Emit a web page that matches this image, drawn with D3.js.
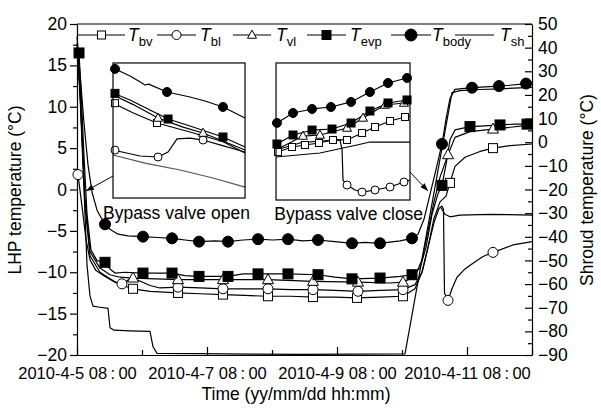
<!DOCTYPE html>
<html lang="en">
<head>
<meta charset="UTF-8">
<title>LHP and shroud temperature</title>
<style>
  body { margin: 0; background: #fff; }
  svg { font-family: "Liberation Sans", Arial, sans-serif; }
  .line { fill: none; stroke: #000; stroke-width: 1.2px; stroke-linejoin: round; }
  .axis path, .axis line { stroke: #000; stroke-width: 1.2px; }
  .axis text { font-size: 17.5px; fill: #000; }
  .xaxis text { font-size: 16.5px; }
  .lbl { font-size: 17.5px; }
</style>
</head>
<body>
<svg width="601" height="410"></svg>
<script src="https://d3js.org/d3.v7.min.js"></script>
<script>
// time in days after 2010-4-5 08:00, temperatures in degC
const bodyT = [0, .046, .108, .169, .231, .308, .4, .431, .508, .631, .785, 1.015, 1.246, 1.462, 1.662, 1.877, 2.123, 2.323, 2.554, 2.785, 3.015, 3.246, 3.477, 3.708, 3.969, 4.231, 4.431, 4.662, 4.969, 5.154, 5.246, 5.338, 5.431, 5.523, 5.615, 5.677, 5.738, 5.815, 5.923, 6.077, 6.277, 6.492, 6.662, 6.908, 7];
const bodyV = [18.5, 14, 8, 3, -0.3, -2.5, -3.8, -4.2, -4.8, -5.4, -5.6, -5.7, -5.8, -5.9, -6.1, -6.3, -6.2, -6.3, -6.1, -6.0, -6.1, -6.0, -6.2, -6.1, -6.3, -6.5, -6.4, -6.5, -6.2, -5.9, -5.4, -3.6, -0.6, 2.4, 5.5, 8.5, 11, 12.1, 12.2, 12.3, 12.4, 12.5, 12.6, 12.8, 12.8];
const bodyMT = [.431, 1.015, 1.462, 1.877, 2.323, 2.785, 3.246, 3.708, 4.231, 4.662, 5.154, 5.615, 6.077, 6.492, 6.908];
const bodyMV = [-4.2, -5.7, -5.9, -6.3, -6.3, -6.0, -6.0, -6.1, -6.5, -6.5, -5.9, 5.5, 12.3, 12.5, 12.8];

const evpT = [0, .031, .062, .108, .154, .215, .308, .431, .508, .585, .738, 1.015, 1.462, 1.662, 1.877, 2.323, 2.554, 2.785, 3.246, 3.708, 3.969, 4.231, 4.662, 4.969, 5.154, 5.277, 5.369, 5.462, 5.554, 5.615, 5.677, 5.738, 5.815, 6.046, 6.277, 6.508, 6.738, 6.923, 7];
const evpV = [17.2, 16.5, 12, 4, -3, -7.3, -8.6, -8.8, -9.6, -10.1, -10.0, -10.1, -10.1, -10.4, -10.5, -10.5, -10.2, -10.2, -10.2, -10.3, -10.6, -10.8, -10.7, -10.5, -10.3, -9.5, -7, -3, -0.5, 0.5, 3, 6, 7.2, 7.6, 7.7, 7.8, 7.9, 7.9, 8.0];
const evpMT = [.031, .431, 1.015, 1.462, 1.877, 2.323, 2.785, 3.246, 3.708, 4.231, 4.662, 5.154, 5.615, 6.046, 6.508, 6.923];
const evpMV = [16.5, -8.8, -10.1, -10.1, -10.5, -10.5, -10.2, -10.2, -10.3, -10.8, -10.7, -10.3, 0.5, 7.6, 7.8, 7.9];

const vlT = [0, .046, .123, .2, .354, .508, .662, .862, 1.554, 2.246, 2.938, 3.631, 4.323, 4.815, 5.015, 5.2, 5.308, 5.4, 5.492, 5.585, 5.708, 5.815, 6.046, 6.4, 7];
const vlV = [17, 12, -1, -7.5, -9.5, -10.3, -10.6, -10.7, -10.9, -10.9, -10.9, -11.1, -11.2, -11.3, -11.2, -10.5, -8.5, -5, -1.5, 1.5, 4.2, 6.3, 7, 7.3, 7.8];
const vlMT = [.862, 1.554, 2.246, 2.938, 3.631, 4.323, 5.015, 5.708, 6.4];
const vlMV = [-10.7, -10.9, -10.9, -10.9, -11.1, -11.2, -11.2, 4.2, 7.3];

const blT = [0, .015, .077, .138, .2, .292, .431, .585, .692, .815, .923, 1.123, 1.277, 1.554, 1.892, 2.246, 2.585, 2.938, 3.292, 3.631, 3.969, 4.323, 4.662, 5.015, 5.2, 5.308, 5.4, 5.492, 5.569, 5.615, 5.638, 5.654, 5.708, 5.769, 5.846, 5.969, 6.092, 6.246, 6.4, 6.708, 7];
const blV = [2.5, 1.8, -2, -6, -8.5, -9.8, -10.5, -11.2, -11.4, -10.8, -10.9, -11.6, -11.9, -11.8, -11.9, -12.0, -12.0, -12.0, -12.1, -12.1, -12.2, -12.3, -12.2, -12.1, -11.5, -10, -7, -4, -2.3, -2.0, -2.4, -12.5, -13.4, -12, -10.6, -9.6, -8.9, -8.1, -7.6, -6.7, -6.3];
const blMT = [.015, .692, 1.554, 2.246, 2.938, 3.631, 4.323, 5.015, 5.708, 6.4];
const blMV = [1.8, -11.4, -11.8, -12.0, -12.0, -12.1, -12.3, -12.1, -13.4, -7.6];

const bvT = [0, .046, .123, .2, .354, .508, .662, .862, 1.123, 1.554, 1.892, 2.246, 2.585, 2.938, 3.292, 3.631, 3.969, 4.308, 4.662, 5.015, 5.2, 5.308, 5.4, 5.492, 5.585, 5.677, 5.738, 5.815, 5.969, 6.2, 6.4, 6.662, 7];
const bvV = [17, 12, -2, -8, -10, -10.8, -11.5, -12, -12.3, -12.5, -12.6, -12.7, -12.8, -12.9, -12.9, -13.0, -13.0, -13.1, -13.0, -12.9, -12, -10, -7, -3.5, -1.5, -0.8, 0.8, 2.8, 3.9, 4.6, 5.0, 5.3, 5.5];
const bvMT = [.862, 1.554, 2.246, 2.938, 3.631, 4.308, 5.015, 5.738, 6.4];
const bvMV = [-12, -12.5, -12.7, -12.9, -13.0, -13.1, -12.9, 0.8, 5.0];

// extra unmarked trace after the valve closes (left axis)
const auxT = [5.6, 5.662, 5.738, 5.892, 6.354, 7];
const auxV = [-2.2, -3.0, -3.3, -3.1, -3.0, -3.1];

// shroud, right axis
const shT = [0, .046, .108, .154, .2, .246, .354, .477, .508, .569, .815, 1.123, 1.169, 1.231, 1.892, 2.662, 3.431, 4.2, 5.046, 5.769, 5.892, 6.2, 6.508, 7];
const shV = [42, 20, -20, -52, -65, -69.3, -69.8, -70.3, -78.5, -79.5, -79.8, -80, -86.5, -89.3, -89.4, -89.6, -89.7, -89.6, -89.5, 21, 21.8, 22.3, 22.6, 23.2];

// inset "bypass valve open" (relative units)
const inAT = {
  body: [[0, 3.41], [1.29, 2.46], [2.0, 1.8], [2.42, 1.39], [2.7, 1.5], [4.09, 0.56], [5.83, -0.03], [6.97, -0.5], [8.33, -1.21], [10, -2.52]],
  evp: [[0, 0.44], [1.29, -0.39], [2.8, -1.57], [4.17, -2.64], [5.83, -3.47], [8.33, -4.77], [10, -5.96]],
  vl: [[0, 0.21], [1.5, -0.9], [3.41, -2.52], [5.3, -3.6], [6.82, -4.3], [10, -6.31]],
  bv: [[0, -0.74], [1.5, -1.9], [3.33, -3.11], [5.83, -4.18], [8.3, -5.3], [10, -6.67]],
  bl: [[0, -6.31], [2.05, -7.02], [3.41, -7.14], [4.17, -6.55], [4.85, -5.0], [5.83, -4.9], [6.82, -5.13], [8.1, -5.7], [10, -6.55]],
  sh: [[0, -6.9], [2.5, -7.9], [5.08, -8.68], [7.5, -9.6], [10, -10.7]]
};
const inAM = {
  body: [[0.15, 3.3], [4.09, 0.56], [8.33, -1.21]],
  evp: [[0.15, 0.4], [4.17, -2.64], [8.33, -4.77]],
  vl: [[3.41, -2.52], [6.82, -4.3]],
  bv: [[0.15, -0.76], [3.33, -3.11]],
  bl: [[0.15, -6.32], [3.41, -7.14], [6.82, -5.13]]
};
// inset "bypass valve close" (relative units)
const inBT = {
  body: [[0, -5.36], [0.07, -5.0], [1.27, -3.84], [2.69, -3.37], [4.10, -3.14], [5.6, -2.55], [7.01, -1.39], [8.36, -0.34], [9.78, 0.25], [10, 0.36]],
  evp: [[0, -7.81], [0.07, -7.46], [1.27, -6.41], [2.69, -5.83], [4.18, -5.71], [5.6, -5.01], [7.01, -3.61], [8.36, -2.67], [9.78, -2.32], [10, -2.2]],
  vl: [[0, -8.16], [2.01, -6.53], [3.28, -6.41], [5.3, -5.59], [6.49, -4.42], [8.13, -2.91], [9.55, -2.67], [10, -2.56]],
  bv: [[0, -8.51], [0.15, -8.4], [1.19, -7.81], [2.16, -7.58], [3.21, -7.34], [4.25, -6.99], [5.3, -6.99], [6.42, -6.18], [7.39, -5.48], [8.51, -4.77], [9.63, -4.31], [10, -4.19]],
  bl: [[0, -8.16], [1.79, -7.34], [3.28, -7.11], [4.78, -6.99], [4.93, -8.16], [5.0, -11.67], [5.3, -12.25], [5.9, -12.83], [6.42, -13.07], [7.39, -12.83], [8.51, -12.48], [9.55, -11.9], [10, -11.67]],
  sh: [[0, -8.98], [3.28, -8.51], [6.04, -7.58], [7.01, -7.23], [10, -7.23]]
};
const inBM = {
  body: [[0.07, -5.0], [1.27, -3.84], [2.69, -3.37], [4.10, -3.14], [5.6, -2.55], [7.01, -1.39], [8.36, -0.34], [9.78, 0.25]],
  evp: [[0.07, -7.46], [1.27, -6.41], [2.69, -5.83], [4.18, -5.71], [5.6, -5.01], [7.01, -3.61], [8.36, -2.67], [9.78, -2.32]],
  vl: [[2.01, -6.53], [3.28, -6.41], [5.3, -5.59], [6.49, -4.42], [8.13, -2.91], [9.55, -2.67]],
  bv: [[0.15, -8.4], [1.19, -7.81], [2.16, -7.58], [3.21, -7.34], [4.25, -6.99], [5.3, -6.99], [6.42, -6.18], [7.39, -5.48], [8.51, -4.77], [9.63, -4.31]],
  bl: [[5.3, -12.25], [6.42, -13.07], [7.39, -12.83], [8.51, -12.48], [9.55, -11.9]]
};

const legendNames = ["bv", "bl", "vl", "evp", "body", "sh"];
const legendSyms = ["osq", "ocirc", "tri", "fsq", "fcirc", null];

const start = new Date(2010, 3, 5, 8, 0);
const day = d => new Date(+start + d * 864e5);

const svg = d3.select("svg");
const x = d3.scaleTime().domain([day(0), day(7)]).range([77, 532]);
const yL = d3.scaleLinear().domain([-20, 20]).range([355, 24]);
const yR = d3.scaleLinear().domain([-90, 50]).range([355, 24]);
const minus = d => d < 0 ? "\u2212" + Math.abs(d) : d;
const zip = (a, b) => a.map((t, i) => [t, b[i]]);

function marker(g, sym, cx, cy, s) {
  if (sym === "fcirc" || sym === "ocirc") {
    g.append("circle").attr("cx", cx).attr("cy", cy).attr("r", s / 2)
      .attr("fill", sym === "fcirc" ? "#000" : "#fff").attr("stroke", "#000").attr("stroke-width", 1);
  } else if (sym === "fsq" || sym === "osq") {
    g.append("rect").attr("x", cx - s / 2).attr("y", cy - s / 2).attr("width", s).attr("height", s)
      .attr("fill", sym === "fsq" ? "#000" : "#fff").attr("stroke", "#000").attr("stroke-width", 1);
  } else if (sym === "tri") {
    const h = s * 0.9;
    g.append("path").attr("d", `M${cx},${cy - h * 0.6}L${cx + s / 2},${cy + h * 0.4}L${cx - s / 2},${cy + h * 0.4}Z`)
      .attr("fill", "#fff").attr("stroke", "#000").attr("stroke-width", 1);
  }
}

// axes
const gL = svg.append("g").attr("class", "axis").attr("transform", "translate(77,0)");
gL.call(d3.axisLeft(yL).tickValues(d3.range(-20, 21, 5)).tickSize(7).tickPadding(3).tickFormat(minus));
gL.append("g").call(d3.axisLeft(yL).tickValues(d3.range(-17.5, 20, 5)).tickSize(4).tickFormat(""))
  .select(".domain").remove();

const gR = svg.append("g").attr("class", "axis").attr("transform", "translate(532,0)");
gR.call(d3.axisRight(yR).tickValues(d3.range(-90, 51, 10)).tickSizeInner(-7).tickSizeOuter(0).tickPadding(6).tickFormat(minus));
gR.append("g").call(d3.axisRight(yR).tickValues(d3.range(-85, 50, 10)).tickSizeInner(-4).tickSizeOuter(0).tickFormat(""))
  .select(".domain").remove();

const fmt = d => d3.timeFormat("%Y-%-m-%-d %H")(d) + "\u2009:\u2009" + d3.timeFormat("%M")(d);
const gB = svg.append("g").attr("class", "axis xaxis").attr("transform", "translate(0,355)");
gB.call(d3.axisBottom(x).tickValues(d3.range(0, 8, 2).map(day)).tickSizeInner(-8).tickSizeOuter(0).tickPadding(12).tickFormat(fmt));
gB.append("g").call(d3.axisBottom(x).tickValues(d3.range(1, 8, 2).map(day)).tickSizeInner(-5).tickSizeOuter(0).tickFormat(""))
  .select(".domain").remove();
svg.append("line").attr("x1", 77).attr("x2", 532).attr("y1", 24).attr("y2", 24)
  .attr("stroke", "#000").attr("stroke-width", 1.2);

svg.append("text").attr("class", "lbl").attr("text-anchor", "middle")
  .attr("transform", "translate(21,190) rotate(-90)").text("LHP temperature (\u00B0C)");
svg.append("text").attr("class", "lbl").attr("text-anchor", "middle")
  .attr("transform", "translate(593,190) rotate(-90)").text("Shroud temperature (\u00B0C)");
svg.append("text").attr("class", "lbl").attr("text-anchor", "middle")
  .attr("x", 296).attr("y", 400).text("Time (yy/mm/dd hh:mm)");

// main series
const lineL = d3.line().x(d => x(day(d[0]))).y(d => yL(d[1]));
const lineR = d3.line().x(d => x(day(d[0]))).y(d => yR(d[1]));
const plot = svg.append("g");
plot.append("path").attr("class", "line").attr("d", lineR(zip(shT, shV)));
plot.append("path").attr("class", "line").attr("d", lineL(zip(auxT, auxV)));
const mainSeries = [
  [bvT, bvV, bvMT, bvMV, "osq", 9],
  [blT, blV, blMT, blMV, "ocirc", 10],
  [vlT, vlV, vlMT, vlMV, "tri", 11],
  [evpT, evpV, evpMT, evpMV, "fsq", 10],
  [bodyT, bodyV, bodyMT, bodyMV, "fcirc", 11]
];
mainSeries.forEach(s => plot.append("path").attr("class", "line").attr("d", lineL(zip(s[0], s[1]))));
mainSeries.forEach(s => s[2].forEach((t, i) => marker(plot, s[4], x(day(t)), yL(s[3][i]), s[5])));

// insets
function inset(t0, t1, vTop, vBot, lo, hi, lines, marks, shColor) {
  const x0 = x(day(t0)), x1 = x(day(t1)), y0 = yL(vTop), y1 = yL(vBot);
  const xi = d3.scaleLinear().domain([0, 10]).range([x0, x1]);
  const yi = d3.scaleLinear().domain([lo, hi]).range([y1, y0]);
  const g = svg.append("g");
  g.append("rect").attr("x", x0).attr("y", y0).attr("width", x1 - x0).attr("height", y1 - y0).attr("fill", "#fff");
  const ln = d3.line().x(d => xi(d[0])).y(d => yi(d[1]));
  g.append("path").attr("class", "line").style("stroke", shColor).attr("d", ln(lines.sh));
  ["bv", "bl", "vl", "evp", "body"].forEach(k => g.append("path").attr("class", "line").attr("d", ln(lines[k])));
  const syms = {bv: "osq", bl: "ocirc", vl: "tri", evp: "fsq", body: "fcirc"};
  const sz = {bv: 7, bl: 8, vl: 9, evp: 8, body: 9};
  ["bv", "bl", "vl", "evp", "body"].forEach(k => marks[k].forEach(p => marker(g, syms[k], xi(p[0]), yi(p[1]), sz[k])));
  g.append("rect").attr("x", x0).attr("y", y0).attr("width", x1 - x0).attr("height", y1 - y0)
    .attr("fill", "none").attr("stroke", "#000").attr("stroke-width", 1.2);
}
inset(.554, 2.585, 15.29, -1.03, -12, 4, inAT, inAM, "#555");
inset(3.062, 5.123, 15.29, -1.27, -14, 2, inBT, inBM, "#000");

// arrows and notes
svg.append("defs").append("marker").attr("id", "ah").attr("viewBox", "0 0 8 6")
  .attr("refX", 8).attr("refY", 3).attr("markerWidth", 8).attr("markerHeight", 6)
  .attr("markerUnits", "userSpaceOnUse").attr("orient", "auto")
  .append("path").attr("d", "M0,0L8,3L0,6Z").attr("fill", "#000");
[[.554, 1.63, .138, -0.18], [5.123, 2.1, 5.4, -0.18]].forEach(a => {
  svg.append("line").attr("x1", x(day(a[0]))).attr("y1", yL(a[1]))
    .attr("x2", x(day(a[2]))).attr("y2", yL(a[3]))
    .attr("stroke", "#000").attr("stroke-width", 1).attr("marker-end", "url(#ah)");
});
svg.append("text").attr("class", "lbl").attr("text-anchor", "middle")
  .attr("x", x(day(1.53))).attr("y", yL(-3.56)).text("Bypass valve open");
svg.append("text").attr("class", "lbl").attr("text-anchor", "middle")
  .attr("x", x(day(4.18))).attr("y", yL(-3.69)).text("Bypass valve close");

// legend
const legLine = [[78, 125], [157, 196], [233, 271], [307, 346], [391, 431], [455, 494]];
const legText = [128, 200, 276, 350, 432, 500];
const leg = svg.append("g");
legendNames.forEach((n, i) => {
  leg.append("line").attr("x1", legLine[i][0]).attr("x2", legLine[i][1]).attr("y1", 35).attr("y2", 35)
    .attr("stroke", "#000").attr("stroke-width", 1.2);
  if (legendSyms[i]) marker(leg, legendSyms[i], (legLine[i][0] + legLine[i][1]) / 2, 35,
    legendSyms[i] === "fcirc" ? 12 : (legendSyms[i] === "osq" ? 8 : 9));
  const t = leg.append("text").attr("x", legText[i]).attr("y", 41).style("font-size", "17.5px");
  t.append("tspan").style("font-style", "italic").text("T");
  t.append("tspan").attr("dy", 5).style("font-size", "13px").text(n);
});
</script>
</body>
</html>
